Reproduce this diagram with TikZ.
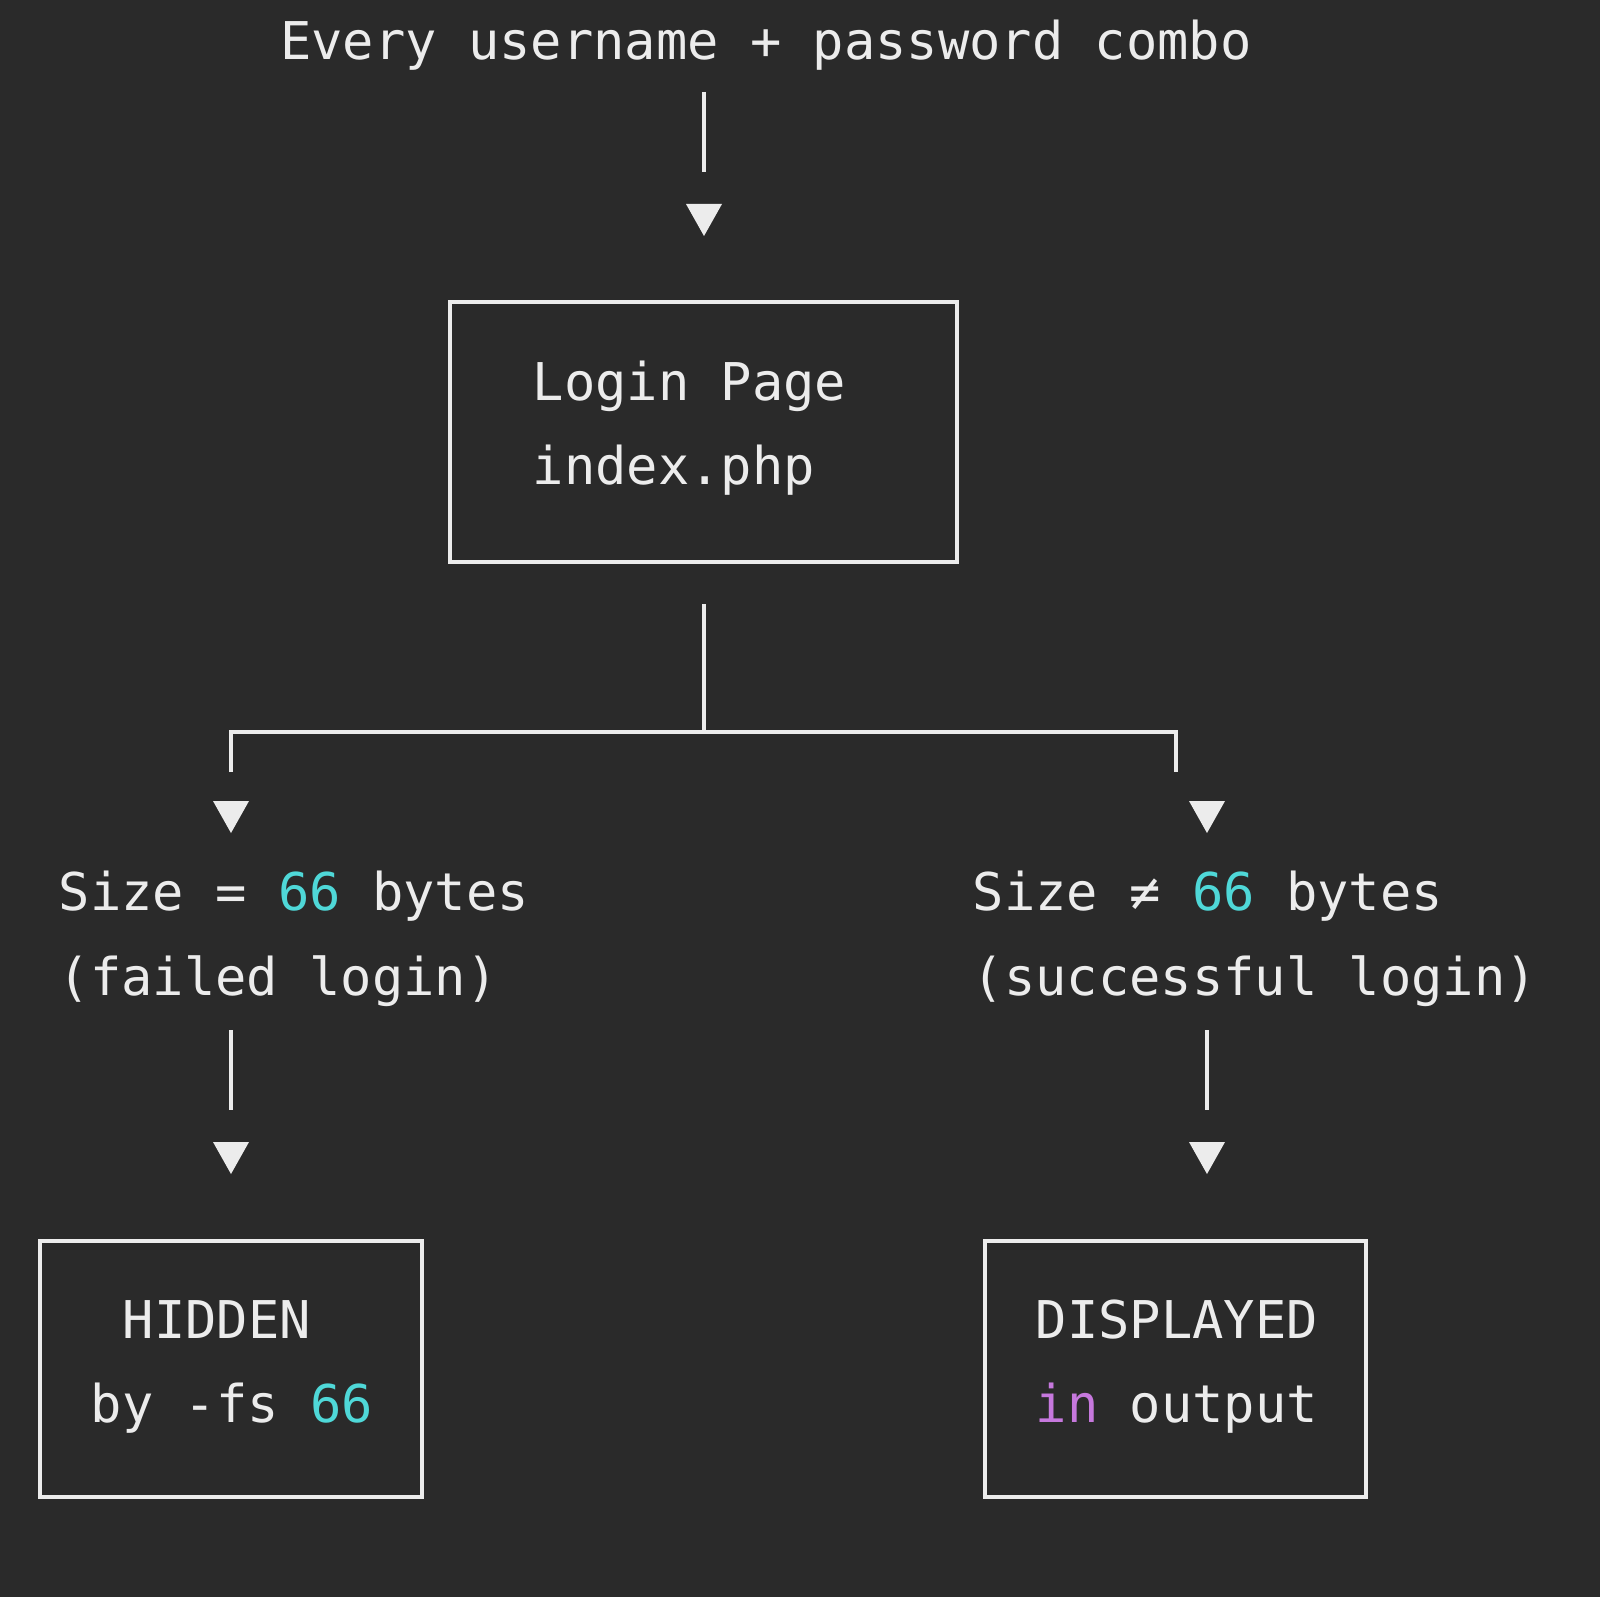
\documentclass[tikz,border=0pt]{standalone}
\usepackage{fontspec}
\setmonofont{DejaVu Sans Mono}
\usetikzlibrary{positioning}
\definecolor{bg}{HTML}{2A2A2A}
\definecolor{fg}{HTML}{ECECEC}
\definecolor{num}{HTML}{4FD8D8}
\definecolor{kw}{HTML}{C678DD}
\begin{document}
\begin{tikzpicture}[x=0.01cm,y=-0.01cm,
    txt/.style={text=fg, font=\ttfamily\fontsize{14.8pt}{18pt}\selectfont, inner sep=0pt, anchor=mid west},
    wire/.style={draw=fg, line width=1.2pt},
    box/.style={draw=fg, line width=1.2pt}]
  \fill[bg] (0,0) rectangle (1600,1597);
  \useasboundingbox (0,0) rectangle (1600,1597);

  % top
  \node[txt, anchor=mid] (src) at (766,52) {Every username + password combo};
  \coordinate (s1) at (704,92);
  \coordinate (s2) at (704,172);
  \draw[wire] (s1) -- (s2);

  % login box
  \draw[box] (450,302) rectangle (957,562);
  \node[txt] (login) at (532,393) {Login Page};
  \node[txt] (index) at (532,477) {index.php};

  % fork
  \coordinate (f0) at (704,604);
  \coordinate (f1) at (704,732);
  \coordinate (fl) at (231,732);
  \coordinate (fr) at (1176,732);
  \coordinate (fld) at (231,772);
  \coordinate (frd) at (1176,772);
  \draw[wire] (f0) -- (f1);
  \draw[wire] (fld) -- (fl) -- (fr) -- (frd);

  % results
  \node[txt] (eq) at (58,903) {Size = \textcolor{num}{66} bytes};
  \node[txt] (fail) at (58,988) {(failed login)};
  \node[txt] (ne) at (972,903) {Size ≠ \textcolor{num}{66} bytes};
  \node[txt] (ok) at (972,988) {(successful login)};
  \coordinate (l1) at (231,1030);
  \coordinate (l2) at (231,1110);
  \coordinate (r1) at (1207,1030);
  \coordinate (r2) at (1207,1110);
  \draw[wire] (l1) -- (l2);
  \draw[wire] (r1) -- (r2);

  % arrow heads
  \foreach \x/\y in {704/220, 231/817, 1207/817, 231/1158, 1207/1158}
    \fill[fg] (\x-18,\y-16) -- (\x+18,\y-16) -- (\x,\y+16) -- cycle;

  % bottom boxes
  \draw[box] (40,1241) rectangle (422,1497);
  \node[txt] (hid) at (122,1331) {HIDDEN};
  \node[txt] (by) at (90,1415) {by -fs \textcolor{num}{66}};
  \draw[box] (985,1241) rectangle (1366,1497);
  \node[txt] (disp) at (1035,1331) {DISPLAYED};
  \node[txt] (out) at (1035,1415) {\textcolor{kw}{in} output};
\end{tikzpicture}
\end{document}
